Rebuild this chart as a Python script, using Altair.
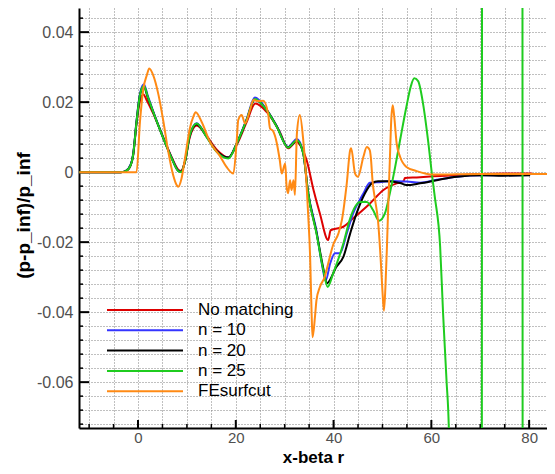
import altair as alt
import pandas as pd

# ---------------- data ----------------
labels = ["No matching", "n = 10", "n = 20", "n = 25", "FEsurfcut"]
colors = ["#dd0000", "#3535ff", "#000000", "#1fcc1f", "#ff8a14"]

red_x = [-12, -3.5, -2.5, -1.5, -1.0, -0.3, 0.4, 1.1, 1.8, 3.1, 5.2, 6.9, 8.3, 8.8, 9.6, 10.6, 12.0, 14.0, 16.1,
         18.5, 20.2, 22.2, 24.0, 26.3, 29.0, 30.7, 32.4, 33.4, 34.5, 35.9, 37.2, 38.9, 39.4, 42.0, 44.0, 47.4,
         50.2, 52.9, 54.3, 54.6, 57.0, 60.4, 65.0, 70.0, 75.0, 80.6]
red_y = [0, 0, 0.0003, 0.002, 0.0047, 0.0138, 0.0203, 0.0222, 0.0205, 0.0168, 0.0098, 0.0042, 0.0006, 0.0003,
         0.003, 0.0100, 0.0133, 0.0104, 0.0064, 0.0042, 0.0078, 0.0142, 0.0196, 0.0172, 0.0115, 0.0068, 0.0087,
         0.0072, 0.0034, -0.0051, -0.0118, -0.0194, -0.0166, -0.0156, -0.0132, -0.0090, -0.0051, -0.0032,
         -0.0026, -0.0017, -0.0015, -0.0012, -0.0009, -0.0005, -0.0004, -0.0004]

blue_x = [-12, -3.5, -2.5, -1.5, -1.0, -0.3, 0.4, 1.2, 2.0, 3.1, 5.2, 6.9, 8.3, 8.8, 9.6, 10.6, 12.0, 14.0, 16.1,
          18.5, 20.2, 22.2, 23.9, 26.3, 28.4, 30.7, 32.5, 33.8, 34.8, 36.5, 37.6, 38.4, 39.3, 40.3, 41.3, 42.7,
          44.0, 46.1, 47.4, 48.8, 52.0, 55.0, 57.7, 61.1, 65.2, 70.6, 74.6, 80.2]
blue_y = [0, 0, 0.0004, 0.0022, 0.0051, 0.0147, 0.0224, 0.0251, 0.0218, 0.0174, 0.0097, 0.0040, 0.0003, 0.0001,
          0.0030, 0.0106, 0.0140, 0.0102, 0.0059, 0.0041, 0.0083, 0.0151, 0.0213, 0.0179, 0.0131, 0.0072, 0.0095,
          0.0055, -0.0058, -0.0168, -0.0262, -0.0309, -0.0261, -0.0232, -0.0232, -0.0175, -0.0118, -0.0061,
          -0.0030, -0.0029, -0.0025, -0.0027, -0.0030, -0.0022, -0.0013, -0.0009, -0.0009, -0.0008]

black_x = [-12, -3.5, -2.5, -1.5, -1.0, -0.3, 0.4, 1.2, 2.0, 3.1, 5.2, 6.9, 8.3, 8.8, 9.6, 10.6, 12.0, 14.0, 16.1,
           18.5, 20.2, 22.2, 23.9, 26.3, 28.4, 30.7, 32.5, 33.8, 34.8, 36.5, 37.9, 38.6, 40.6, 42.0, 43.4, 44.7,
           46.4, 47.8, 49.1, 50.9, 53.6, 54.9, 57.7, 61.1, 65.2, 70.6, 74.6, 80.2]
black_y = [0, 0, 0.0003, 0.002, 0.0049, 0.0144, 0.0220, 0.0244, 0.0213, 0.0172, 0.0096, 0.0040, 0.0003, 0.0001,
           0.0030, 0.0105, 0.0137, 0.0102, 0.0060, 0.0042, 0.0082, 0.0148, 0.0207, 0.0178, 0.0130, 0.0071, 0.0090,
           0.0053, -0.0060, -0.0172, -0.0275, -0.0318, -0.0270, -0.0242, -0.0175, -0.0118, -0.0061, -0.0032,
           -0.0026, -0.0026, -0.0031, -0.0037, -0.0032, -0.0023, -0.0013, -0.0009, -0.0010, -0.0009]

green_x = [-12, -3.5, -2.5, -1.5, -1.0, -0.3, 0.4, 1.2, 2.0, 3.1, 5.2, 6.9, 8.3, 8.8, 9.6, 10.6, 12.0, 14.0, 16.1,
           18.5, 20.2, 22.2, 23.9, 26.3, 28.4, 30.7, 32.5, 33.8, 34.8, 36.5, 37.9, 38.8, 39.9, 42.0, 43.4, 44.4,
           45.4, 46.8, 48.1, 49.3, 50.5, 51.5, 52.6, 53.6, 54.9, 55.8, 56.5, 57.3, 58.3, 59.4, 60.1, 60.7, 61.8,
           62.4, 63.1, 63.6, 64.5, 70.3, 70.4, 78.6, 78.7]
green_y = [0, 0, 0.0003, 0.0020, 0.0049, 0.0144, 0.0220, 0.0247, 0.0215, 0.0172, 0.0096, 0.0039, 0.0002, 0.0,
           0.0030, 0.0106, 0.0139, 0.0101, 0.0058, 0.0039, 0.0082, 0.0149, 0.0209, 0.0177, 0.0129, 0.0070, 0.0091,
           0.0053, -0.0061, -0.0175, -0.0280, -0.0328, -0.0290, -0.0204, -0.0132, -0.0099, -0.0085, -0.0085,
           -0.0109, -0.0139, -0.0118, -0.0061, 0.0015, 0.0091, 0.0187, 0.0245, 0.0268, 0.0260, 0.0196, 0.0082,
           -0.0004, -0.0070, -0.0213, -0.0404, -0.0594, -0.0746, -0.2, -0.2, 0.2, 0.2, -0.2]

orange_x = [-12, -0.3, 0.4, 1.1, 1.8, 2.3, 3.1, 4.2, 5.2, 6.2, 7.2, 7.9, 8.2, 8.9, 9.6, 10.6, 11.3, 11.8, 13.0,
            14.7, 16.8, 18.1, 19.5, 20.2, 20.5, 21.2, 21.9, 22.9, 23.6, 24.5, 25.6, 26.6, 27.0, 27.6, 28.4, 29.0,
            29.4, 30.1, 30.4, 30.7, 31.1, 31.4, 31.8, 32.1, 32.5, 33.1, 33.8, 34.5, 34.8, 35.2, 35.5, 35.7, 36.2,
            36.5, 37.2, 38.2, 38.9, 39.9, 41.0, 41.7, 42.7, 43.4, 43.6, 44.4, 45.0, 46.1, 46.8, 47.4, 47.6, 48.0,
            48.5, 49.1, 49.6, 50.0, 50.3, 50.6, 50.9, 51.2, 51.5, 51.8, 52.1, 52.4, 52.9, 53.6, 54.9, 57.0, 60.4,
            70.0, 85.3]
orange_y = [0, 0, 0.0144, 0.0239, 0.0277, 0.0296, 0.0277, 0.0220, 0.0144, 0.0058, -0.0009, -0.0037, -0.0042,
            -0.0018, 0.0039, 0.0125, 0.0158, 0.0171, 0.0144, 0.0087, 0.0045, 0.0015, -0.0004, 0.0091, 0.0149,
            0.0163, 0.0139, 0.0177, 0.0206, 0.0203, 0.0204, 0.0168, 0.0125, 0.0118, 0.0082, 0.0034, -0.0004,
            0.0025, -0.0042, -0.0060, -0.0023, -0.0051, -0.0023, -0.0065, 0.0110, 0.0163, 0.0091, -0.0042,
            -0.0120, -0.0240, -0.0400, -0.0472, -0.0413, -0.0366, -0.0328, -0.0299, -0.0261, -0.0208, -0.0175,
            -0.0137, -0.0032, 0.0063, 0.0068, -0.0004, -0.0013, 0.0044, 0.0072, 0.0063, 0.0045, -0.0030, -0.0080,
            -0.0140, -0.0240, -0.0340, -0.0396, -0.0330, -0.0220, -0.0090, 0.0030, 0.0150, 0.0191, 0.0160,
            0.0082, 0.0044, 0.0015, 0.0003, -0.0007, -0.0005, -0.0005]

x_major = [0, 20, 40, 60, 80]
x_grid = list(range(-10, 81, 5))
y_major = [-0.06, -0.04, -0.02, 0.0, 0.02, 0.04]
y_grid = [round(i * 0.004, 3) for i in range(-18, 12)]

# ---------------- layout / style ----------------
W, H = 468, 420
PXU_X = 4.889          # pixels per x unit
PXU_Y = 3500.0         # pixels per y unit
XMIN = -12.07
XMAX = XMIN + W / PXU_X
YMAX = 0.0469
YMIN = YMAX - H / PXU_Y
FONT = "Liberation Sans"

xscale = alt.Scale(domain=[XMIN, XMAX], nice=False, zero=False)
yscale = alt.Scale(domain=[YMIN, YMAX], nice=False, zero=False)

xaxis = alt.Axis(
    title="x-beta r", values=x_grid, ticks=False, grid=True,
    gridColor="#808080", gridDash=[1, 2], gridWidth=1,
    domainColor="#000000", domainWidth=2,
    labelExpr="datum.value % 20 === 0 ? format(datum.value, 'd') : ''",
    labelFont=FONT, labelFontSize=15, labelColor="#505050", labelPadding=2, labelOverlap=False,
    titleFont=FONT, titleFontSize=17, titleFontWeight="bold", titleColor="#000000",
    titleY=38, titleBaseline="bottom",
)
yaxis = alt.Axis(
    title="(p-p_inf)/p_inf", values=y_grid, ticks=False, grid=True,
    gridColor="#808080", gridDash=[1, 2], gridWidth=1,
    domainColor="#000000", domainWidth=2,
    labelExpr="abs(datum.value*50 - round(datum.value*50)) < 1e-6 ? "
              "(abs(datum.value) < 1e-9 ? '0' : (datum.value < 0 ? '-' : '') + format(abs(datum.value), '.2f')) : ''",
    labelFont=FONT, labelFontSize=16, labelColor="#505050", labelPadding=6, labelOverlap=False,
    titleFont=FONT, titleFontSize=19, titleFontWeight="bold", titleColor="#000000",
    titleAngle=270, titleX=-56, titleY=207, titleAlign="center", titleBaseline="middle",
)

layers = []

# tick marks (inward)
xt_major = pd.DataFrame({"t": x_major})
xt_minor = pd.DataFrame({"t": [v for v in x_grid if v % 20 != 0]})
yt_major = pd.DataFrame({"t": y_major})
yt_minor = pd.DataFrame({"t": [v for v in y_grid if abs(v * 50 - round(v * 50)) > 1e-6]})

layers.append(alt.Chart(xt_major).mark_rule(color="black", strokeWidth=2).encode(
    x=alt.X("t:Q", scale=xscale, axis=xaxis), y=alt.value(H), y2=alt.value(H - 8)))
layers.append(alt.Chart(xt_minor).mark_rule(color="black", strokeWidth=1.5).encode(
    x=alt.X("t:Q", scale=xscale, axis=xaxis), y=alt.value(H), y2=alt.value(H - 4)))
layers.append(alt.Chart(yt_major).mark_rule(color="black", strokeWidth=2).encode(
    y=alt.Y("t:Q", scale=yscale, axis=yaxis), x=alt.value(0), x2=alt.value(10)))
layers.append(alt.Chart(yt_minor).mark_rule(color="black", strokeWidth=1.5).encode(
    y=alt.Y("t:Q", scale=yscale, axis=yaxis), x=alt.value(0), x2=alt.value(4)))

series = [(red_x, red_y), (blue_x, blue_y), (black_x, black_y), (green_x, green_y), (orange_x, orange_y)]
for (xs, ys), name, col in zip(series, labels, colors):
    df = pd.DataFrame({"x": xs, "y": ys, "i": list(range(len(xs))), "s": name})
    layers.append(alt.Chart(df).mark_line(color=col, strokeWidth=2, clip=True,
                                          interpolate="monotone").encode(
        x=alt.X("x:Q", scale=xscale, axis=xaxis),
        y=alt.Y("y:Q", scale=yscale, axis=yaxis),
        order="i:Q"))

# manual legend inside the plot (rows placed through the y scale)
ypp = 1.0 / PXU_Y
leg_rows = []
for k, (name, col) in enumerate(zip(labels, colors)):
    leg_rows.append({"label": name, "col": col, "ly": YMAX - (302 + k * 20.3) * ypp})
leg = pd.DataFrame(leg_rows)
cscale = alt.Scale(domain=labels, range=colors)
layers.append(alt.Chart(leg).mark_rule(strokeWidth=2).encode(
    y=alt.Y("ly:Q", scale=yscale, axis=yaxis), x=alt.value(28), x2=alt.value(104),
    color=alt.Color("label:N", scale=cscale, legend=None)))
layers.append(alt.Chart(leg).mark_text(align="left", baseline="middle", font=FONT, fontSize=17,
                                        color="black").encode(
    y=alt.Y("ly:Q", scale=yscale, axis=yaxis), x=alt.value(119), text="label:N"))

chart = alt.layer(*layers).properties(
    width=W, height=H,
    padding={"left": 71, "top": 0, "right": 0, "bottom": 38},
    autosize=alt.AutoSizeParams(type="none"),
    background="white",
).configure_view(stroke=None)

chart.save("out.html", embed_options={"renderer": "svg", "actions": False})
